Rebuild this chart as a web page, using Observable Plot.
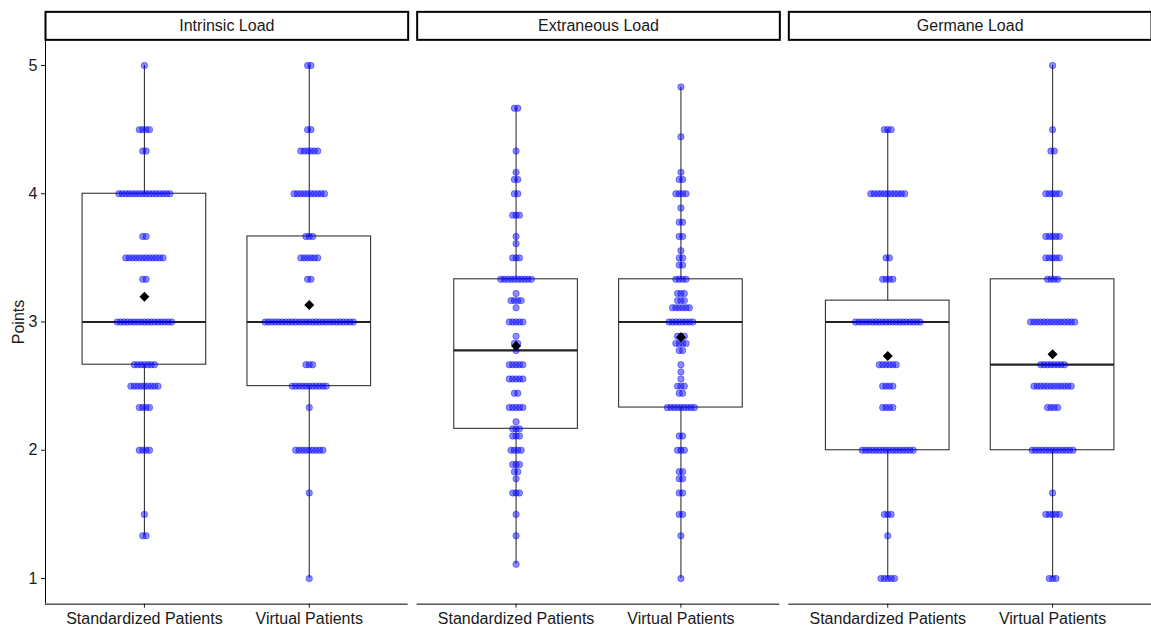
<!DOCTYPE html>
<html>
<head>
<meta charset="utf-8">
<script src="https://cdn.jsdelivr.net/npm/d3@7"></script>
<script src="https://cdn.jsdelivr.net/npm/@observablehq/plot@0.6"></script>
<style>
  html, body { margin: 0; padding: 0; background: #fff; }
  svg { display: block; }
</style>
</head>
<body>
<div id="chart"></div>
<script>
// ---- data ----
const loads = ["Intrinsic Load", "Extraneous Load", "Germane Load"];
const groups = ["Standardized Patients", "Virtual Patients"];
const yTicks = [1, 2, 3, 4, 5];

const intrinsicSPValues = [5, 4.5, 4.333, 4, 3.667, 3.5, 3.333, 3, 2.667, 2.5, 2.333, 2, 1.5, 1.333];
const intrinsicSPCounts = [1, 4, 2, 16, 2, 12, 2, 17, 7, 9, 4, 4, 1, 2];

const intrinsicVPValues = [5, 4.5, 4.333, 4, 3.667, 3.5, 3.333, 3, 2.667, 2.5, 2.333, 2, 1.667, 1];
const intrinsicVPCounts = [2, 2, 6, 10, 3, 6, 2, 27, 3, 11, 1, 9, 1, 1];

const extraneousSPValues = [4.667, 4.333, 4.167, 4.111, 4, 3.833, 3.667, 3.611, 3.5, 3.333, 3.222, 3.167, 3.111, 3, 2.889, 2.833, 2.778, 2.667, 2.556, 2.444, 2.333, 2.222, 2.167, 2.111, 2, 1.889, 1.833, 1.778, 1.667, 1.5, 1.333, 1.111];
const extraneousSPCounts = [2, 1, 1, 2, 2, 3, 1, 1, 3, 10, 1, 4, 1, 5, 1, 2, 1, 5, 5, 2, 5, 1, 3, 3, 4, 3, 2, 1, 3, 1, 1, 1];

const extraneousVPValues = [4.833, 4.444, 4.167, 4.111, 4, 3.889, 3.778, 3.667, 3.556, 3.5, 3.444, 3.333, 3.222, 3.167, 3.111, 3, 2.889, 2.833, 2.778, 2.667, 2.611, 2.556, 2.5, 2.444, 2.333, 2.111, 2, 1.833, 1.778, 1.667, 1.5, 1.333, 1];
const extraneousVPCounts = [1, 1, 1, 2, 4, 1, 2, 2, 1, 2, 2, 4, 3, 3, 6, 8, 3, 4, 2, 1, 1, 1, 3, 2, 9, 2, 3, 2, 2, 2, 2, 1, 1];

const germaneSPValues = [4.5, 4, 3.5, 3.333, 3, 2.667, 2.5, 2.333, 2, 1.5, 1.333, 1];
const germaneSPCounts = [3, 11, 2, 4, 20, 6, 4, 4, 16, 3, 1, 5];

const germaneVPValues = [5, 4.5, 4.333, 4, 3.667, 3.5, 3.333, 3, 2.667, 2.5, 2.333, 2, 1.667, 1.5, 1];
const germaneVPCounts = [1, 1, 2, 5, 5, 5, 4, 14, 8, 12, 4, 13, 1, 5, 3];

// ---- layout / style constants ----
const xDomain = [0.4, 2.6];
const yDomain = [0.8, 5.2];
const boxHalf = 0.375;     // box half-width in x units
const dotStep = 0.0206;    // horizontal stacking step of the dot plot (x units)
const stripH = 28;

const series = [
  [loads[0], 0, intrinsicSPValues, intrinsicSPCounts],
  [loads[0], 1, intrinsicVPValues, intrinsicVPCounts],
  [loads[1], 0, extraneousSPValues, extraneousSPCounts],
  [loads[1], 1, extraneousVPValues, extraneousVPCounts],
  [loads[2], 0, germaneSPValues, germaneSPCounts],
  [loads[2], 1, germaneVPValues, germaneVPCounts]
];

const points = [];
const stats = [];
for (const [load, gi, values, counts] of series) {
  const pos = gi + 1;
  const all = [];
  values.forEach((v, i) => {
    const n = counts[i];
    for (let k = 0; k < n; k++) {
      points.push({load, group: groups[gi], value: v, x: pos + (k - (n - 1) / 2) * dotStep});
      all.push(v);
    }
  });
  all.sort(d3.ascending);
  const q1 = d3.quantile(all, 0.25), med = d3.quantile(all, 0.5), q3 = d3.quantile(all, 0.75);
  const iqr = q3 - q1;
  const lo = d3.min(all.filter(v => v >= q1 - 1.5 * iqr));
  const hi = d3.max(all.filter(v => v <= q3 + 1.5 * iqr));
  stats.push({load, group: groups[gi], pos, q1, med, q3, lo, hi, mean: d3.mean(all)});
}

const W = 1151, H = 629;
const marginTop = 39.35, marginBottom = 25.35;
const frameH = H - marginTop - marginBottom;

const chart = Plot.plot({
  width: W,
  height: H,
  marginLeft: 45,
  marginRight: 0,
  marginTop,
  marginBottom,
  style: {fontFamily: "'Liberation Sans', Arial, sans-serif", fontSize: "16px", background: "#fff", color: "#1a1a1a"},
  fx: {domain: loads, axis: null, paddingInner: 9 / 372, paddingOuter: 0, round: false},
  x: {domain: xDomain, ticks: [1, 2], tickFormat: d => groups[d - 1], tickSize: 4, tickPadding: 4, label: null},
  y: {domain: yDomain, ticks: yTicks, tickFormat: d => String(d), tickSize: 4, tickPadding: 4, label: "Points", labelArrow: "none", labelAnchor: "center", labelOffset: 33},
  marks: [
    // strips
    Plot.frame({stroke: "#000", strokeWidth: 2, insetTop: -stripH, insetBottom: frameH}),
    Plot.text(loads, {fx: d => d, text: d => d, frameAnchor: "top", lineAnchor: "middle", dy: -stripH / 2, fill: "#1a1a1a"}),
    // axis lines
    Plot.ruleY(loads, {fx: d => d, y: () => yDomain[0], stroke: "#000", strokeWidth: 1}),
    Plot.ruleX([loads[0]], {fx: d => d, x: () => xDomain[0], stroke: "#000", strokeWidth: 1}),
    // boxplots
    Plot.ruleX(stats, {fx: "load", x: "pos", y1: "lo", y2: "hi", stroke: "#333", strokeWidth: 1.1}),
    Plot.rect(stats, {fx: "load", x1: d => d.pos - boxHalf, x2: d => d.pos + boxHalf, y1: "q1", y2: "q3", fill: "#fff", stroke: "#333", strokeWidth: 1.1}),
    Plot.ruleY(stats, {fx: "load", y: "med", x1: d => d.pos - boxHalf, x2: d => d.pos + boxHalf, stroke: "#222", strokeWidth: 2.2}),
    // dot plot
    Plot.dot(points, {fx: "load", x: "x", y: "value", r: 3.2, fill: "blue", fillOpacity: 0.45, stroke: "blue", strokeOpacity: 0.5, strokeWidth: 0.8}),
    // means
    Plot.dot(stats, {fx: "load", x: "pos", y: "mean", symbol: "diamond2", r: 4.5, fill: "#000", stroke: "none"})
  ]
});
document.getElementById("chart").appendChild(chart);
</script>
</body>
</html>
